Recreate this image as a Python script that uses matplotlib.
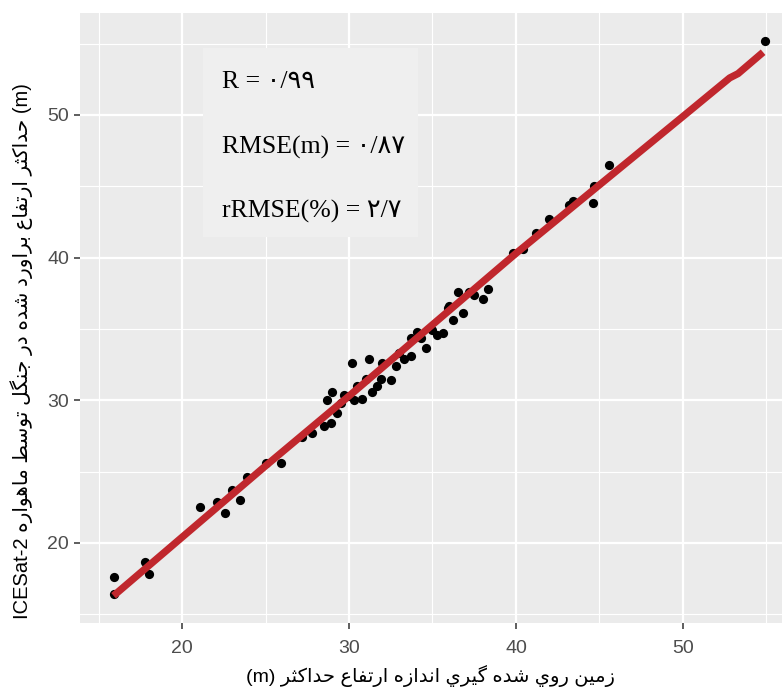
import matplotlib
matplotlib.use("Agg")
import matplotlib.pyplot as plt
from matplotlib.patches import Rectangle

# ── data ────────────────────────────────────────────────────────────────────
x_ground = [15.9, 15.9, 17.8, 18.0, 21.1, 22.1, 22.6, 23.0, 23.5, 23.9,
            25.0, 25.9, 27.2, 27.8, 28.5, 28.7, 28.9, 29.0, 29.3, 29.5,
            29.7, 30.0, 30.2, 30.3, 30.5, 30.8, 31.0, 31.2, 31.4, 31.7,
            31.9, 32.0, 32.5, 32.8, 33.0, 33.3, 33.7, 33.7, 34.1, 34.3,
            34.6, 35.0, 35.3, 35.6, 35.9, 36.0, 36.2, 36.5, 36.8, 37.2,
            37.5, 38.0, 38.3, 39.8, 40.4, 41.2, 42.0, 43.2, 43.4, 44.6,
            44.7, 45.6, 54.9]
y_icesat = [17.6, 16.4, 18.7, 17.8, 22.5, 22.9, 22.1, 23.7, 23.0, 24.6,
            25.6, 25.6, 27.4, 27.7, 28.2, 30.0, 28.4, 30.6, 29.1, 29.8,
            30.4, 30.3, 32.6, 30.0, 31.0, 30.1, 31.5, 32.9, 30.6, 31.0,
            31.5, 32.6, 31.4, 32.4, 33.3, 32.9, 34.4, 33.1, 34.8, 34.4,
            33.7, 34.9, 34.6, 34.7, 36.5, 36.6, 35.6, 37.6, 36.1, 37.6,
            37.4, 37.1, 37.8, 40.3, 40.6, 41.7, 42.7, 43.7, 44.0, 43.8,
            45.0, 46.5, 55.2]

fit_x = [15.9, 20, 25, 30, 35, 40, 45, 50, 52.8, 53.3, 54.8]
fit_y = [16.3, 20.4, 25.4, 30.3, 35.3, 40.3, 45.1, 49.9, 52.6, 52.9, 54.4]

x_ticks = [20, 30, 40, 50]
y_ticks = [20, 30, 40, 50]

stats = ["R = ۰/۹۹", "RMSE(m) = ۰/۸۷", "rRMSE(%) = ۲/۷"]

# persian words in the visual (left to right) order they appear
ylab_words = ["ماهواره", "توسط", "جنگل", "در", "شده", "براورد", "ارتفاع", "حداكثر"]
xlab_words = ["حداكثر", "ارتفاع", "اندازه", "گيري", "شده", "روي", "زمين"]

# ── minimal arabic shaping (matplotlib has no shaper) ───────────────────────
DUAL = {"ب": 0xFE8F, "ت": 0xFE95, "ث": 0xFE99, "ج": 0xFE9D, "ح": 0xFEA1,
        "خ": 0xFEA5, "س": 0xFEB1, "ش": 0xFEB5, "ط": 0xFEC1, "ع": 0xFEC9,
        "ف": 0xFED1, "ك": 0xFED9, "ل": 0xFEDD, "م": 0xFEE1, "ن": 0xFEE5,
        "ه": 0xFEE9, "ي": 0xFEF1, "گ": 0xFB92}
RIGHT = {"ا": 0xFE8D, "د": 0xFEA9, "ر": 0xFEAD, "ز": 0xFEAF, "و": 0xFEED}


def shape(word):
    out = []
    for i, c in enumerate(word):
        jp = i > 0 and word[i - 1] in DUAL
        nxt = word[i + 1] if i + 1 < len(word) else None
        if c in DUAL:
            jn = nxt is not None and (nxt in DUAL or nxt in RIGHT)
            off = [[0, 2], [1, 3]][jp][jn]
            out.append(chr(DUAL[c] + off))
        elif c in RIGHT:
            out.append(chr(RIGHT[c] + (1 if jp else 0)))
        else:
            out.append(c)
    return "".join(reversed(out))


ylabel = "ICESat-2 " + " ".join(shape(w) for w in ylab_words) + " (m)"
xlabel = "(m) " + " ".join(shape(w) for w in xlab_words)

SANS = ["Liberation Sans", "DejaVu Sans"]
SERIF = ["Liberation Serif", "DejaVu Sans"]

# ── figure ──────────────────────────────────────────────────────────────────
fig = plt.figure(figsize=(7.82, 6.92), dpi=100)
ax = fig.add_axes([80 / 782, 1 - 623 / 692, 717 / 782, 610 / 692])
ax.set_facecolor("#ebebeb")
for s in ax.spines.values():
    s.set_visible(False)

ax.set_xlim(13.89, 56.83)
ax.set_ylim(14.39, 57.15)
ax.set_xticks(x_ticks)
ax.set_yticks(y_ticks)
ax.set_xticks([15, 25, 35, 45, 55], minor=True)
ax.set_yticks([15, 25, 35, 45, 55], minor=True)
ax.grid(True, which="major", color="white", linewidth=1.6)
ax.grid(True, which="minor", color="white", linewidth=0.8)
ax.set_axisbelow(True)
ax.tick_params(which="major", length=4, width=1.1, color="#333333",
               labelcolor="#4d4d4d", labelsize=14, pad=4)
ax.tick_params(axis="x", which="major", pad=8)
ax.tick_params(which="minor", length=0)
for lab in ax.get_xticklabels() + ax.get_yticklabels():
    lab.set_family(SANS)

# stats box
ax.add_patch(Rectangle((0.1715, 0.633), 0.2995, 0.31, transform=ax.transAxes,
                       facecolor="#efefef", edgecolor="none", zorder=1.5))
for txt, yy in zip(stats, [0.877, 0.770, 0.664]):
    ax.text(0.198, yy, txt, transform=ax.transAxes, fontsize=18.5,
            family=SERIF, color="black", va="baseline", zorder=3)

ax.scatter(x_ground, y_icesat, s=44, color="black", zorder=3,
           linewidths=0)
ax.plot(fit_x, fit_y, color="#c0272d", linewidth=5.2,
        solid_capstyle="butt", zorder=4)

fig.text(22 / 782, 0.5 - 5 / 692, ylabel, rotation=90, ha="center",
         va="center", fontsize=14.5, family=SANS, color="black")
fig.text(430 / 782, 1 - 676 / 692, xlabel, ha="center", va="center",
         fontsize=14, family=SANS, color="black")

fig.savefig("out.png", dpi=100)
